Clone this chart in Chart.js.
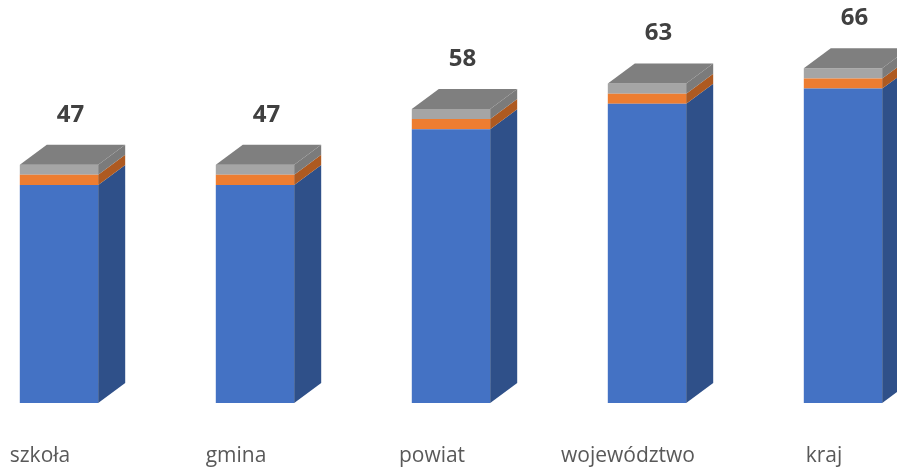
<!DOCTYPE html>
<html>
<head>
<meta charset="utf-8">
<script src="https://cdn.jsdelivr.net/npm/chart.js@4"></script>
<style>
    body { margin: 0; background: #fff; }
    #wrap { width: 897px; height: 471px; position: relative; }
</style>
</head>
<body>
<div id="wrap"><canvas id="barChart"></canvas></div>
<script>
// Chart data
const categories = ['szkoła', 'gmina', 'powiat', 'województwo', 'kraj'];
const blueValues = [43, 43, 54, 59, 62];
const orangeValues = [2, 2, 2, 2, 2];
const grayValues = [2, 2, 2, 2, 2];
const totals = [47, 47, 58, 63, 66];

// 3D depth of the boxes
const DX = 27;
const DY = -20;

// Side colours for each series (front colours are in datasets)
const sideColors = ['#2f5089', '#ae5a21', '#7b7b7b'];
const topColor = '#7f7f7f';

function poly(ctx, pts, color) {
    ctx.beginPath();
    ctx.moveTo(pts[0][0], pts[0][1]);
    for (let i = 1; i < pts.length; i++) ctx.lineTo(pts[i][0], pts[i][1]);
    ctx.closePath();
    ctx.fillStyle = color;
    ctx.fill();
}

// Draws side and top faces, the total labels and the category labels
const boxPlugin = {
    id: 'box3d',
    afterDatasetsDraw(chart) {
        const ctx = chart.ctx;
        const n = chart.data.datasets.length;
        ctx.save();
        for (let d = 0; d < n; d++) {
            const meta = chart.getDatasetMeta(d);
            meta.data.forEach(function(bar) {
                const p = bar.getProps(['x', 'y', 'base', 'width'], true);
                const r = p.x + p.width / 2;
                poly(ctx, [[r, p.y], [r + DX, p.y + DY], [r + DX, p.base + DY], [r, p.base]], sideColors[d]);
                if (d === n - 1) {
                    const l = p.x - p.width / 2;
                    poly(ctx, [[l, p.y], [l + DX, p.y + DY], [r + DX, p.y + DY], [r, p.y]], topColor);
                }
            });
        }
        ctx.textAlign = 'center';
        ctx.textBaseline = 'middle';

        // Total labels
        const topMeta = chart.getDatasetMeta(n - 1);
        ctx.font = 'bold 24px "Open Sans"';
        ctx.fillStyle = '#404040';
        topMeta.data.forEach(function(bar, i) {
            const p = bar.getProps(['x', 'y'], true);
            ctx.fillText(totals[i], p.x + DX / 2 - 2, p.y - 50);
        });

        // Category labels
        ctx.font = '21px "Open Sans"';
        ctx.fillStyle = '#595959';
        const xScale = chart.scales.x;
        categories.forEach(function(c, i) {
            ctx.fillText(c, xScale.getPixelForValue(i) - 19, chart.chartArea.bottom + 53);
        });
        ctx.restore();
    }
};

const ctx = document.getElementById('barChart').getContext('2d');
new Chart(ctx, {
    type: 'bar',
    data: {
        labels: categories,
        datasets: [
            { label: 'A', data: blueValues, backgroundColor: '#4472c4', clip: false },
            { label: 'B', data: orangeValues, backgroundColor: '#ed7d31', clip: false },
            { label: 'C', data: grayValues, backgroundColor: '#a5a5a5', clip: false }
        ]
    },
    options: {
        responsive: true,
        maintainAspectRatio: false,
        animation: false,
        layout: { padding: { left: 59, right: 54, top: 10, bottom: 68 } },
        datasets: {
            bar: { barPercentage: 0.4, categoryPercentage: 1.0, borderWidth: 0 }
        },
        plugins: {
            legend: { display: false },
            tooltip: { enabled: false }
        },
        scales: {
            x: {
                stacked: true,
                offset: false,
                display: false
            },
            y: {
                stacked: true,
                display: false,
                min: 0,
                max: 77.5
            }
        }
    },
    plugins: [boxPlugin]
});
</script>
</body>
</html>
